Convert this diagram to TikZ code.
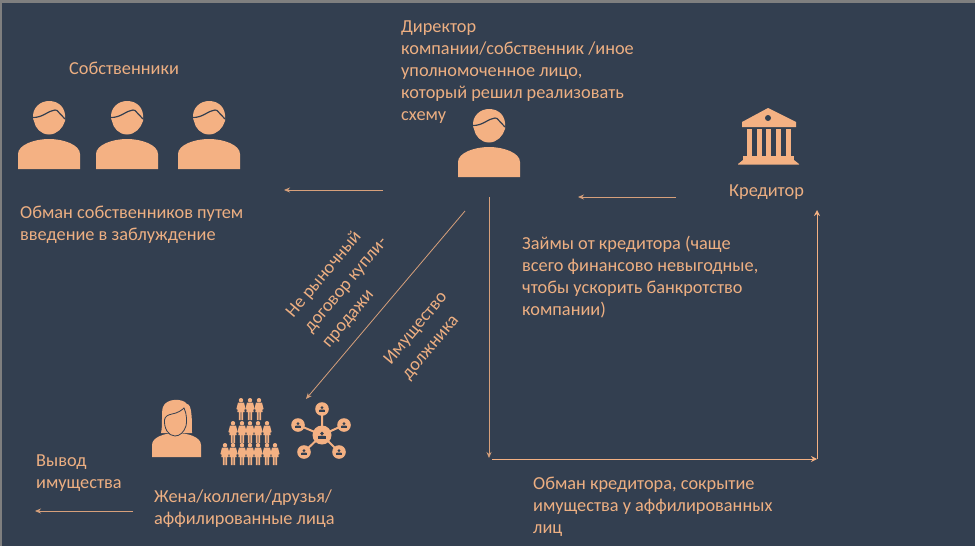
\documentclass[tikz,border=0pt]{standalone}
\usepackage{fontspec}
\usetikzlibrary{arrows.meta}
\setmainfont{Carlito}
\definecolor{bgc}{HTML}{333F50}
\definecolor{pch}{HTML}{F4B183}
\definecolor{txtc}{HTML}{EDAF82}
\definecolor{edgec}{HTML}{7F7F7F}
\tikzset{
  lbl/.style={text=txtc,font=\fontsize{18.3}{22}\selectfont,inner sep=0pt,align=left,anchor=north west},
  rotlbl/.style={text=txtc,font=\fontsize{18.3}{23.5}\selectfont,inner sep=0pt,align=left,rotate=50},
  flow/.style={draw=pch!85!bgc,line width=0.8pt,-{Stealth[length=6pt,width=5pt]}},
  flowb/.style={draw=pch,line width=1pt,-{Stealth[length=6pt,width=6pt]}},
  person/.pic={
    \fill[pch] (-16,0.5) .. controls (-17,-10) and (-9,-17) .. (0,-17) .. controls (10,-17) and (17,-10) .. (16,0.5) -- (16,3) .. controls (14,10) and (8,16.5) .. (0,16.5) .. controls (-8,16.5) and (-14,10) .. (-15,3) -- cycle;
    \fill[pch] (-31,51) -- (-31,36) .. controls (-31,27) and (-15,21) .. (0,21) .. controls (15,21) and (31,27) .. (31,36) -- (31,51) -- cycle;
    \draw[bgc,line width=1.2pt] (-17,-0.5) .. controls (-6,0) and (-1,-7.5) .. (6,-8) -- (8,-7.5) -- (16,1);
  },
  minip/.pic={
    \fill[pch] (0,-8.8) circle (2.2);
    \fill[pch] (-3,-6.4) -- (3,-6.4) -- (4.6,0) -- (3.4,0.6) -- (3.6,3) -- (2.2,3) -- (2.2,11) -- (0.4,11) -- (0.4,3) -- (-0.4,3) -- (-0.4,11) -- (-2.2,11) -- (-2.2,3) -- (-3.6,3) -- (-3.4,0.6) -- (-4.6,0) -- cycle;
  },
  netp/.pic={
    \fill[bgc] (0,-1.6) circle (1.9);
    \fill[bgc] (-3.8,3.6) rectangle (3.8,1.4);
    \fill[bgc] (-3.8,1.6) .. controls (-3.5,0.4) and (3.5,0.4) .. (3.8,1.6) -- cycle;
  },
}
\begin{document}
\begin{tikzpicture}[x=1pt,y=-1pt]
\useasboundingbox (0,0) rectangle (975,546);
\fill[bgc] (0,0) rectangle (975,546);
\fill[edgec] (0,0) rectangle (975,2.5);
\fill[edgec] (0,0) rectangle (1.5,546);

% owners
\pic at (49,118) {person};
\pic at (127,118) {person};
\pic at (209,118) {person};
% director
\pic at (489,126) {person};

% bank
\fill[pch] (768,108) -- (796,122) -- (796,127) -- (742,127) -- (742,122) -- cycle;
\fill[bgc] (768,118) circle (3);
\foreach \cx in {749,759,768.5,778,788} \fill[pch] (\cx-2.5,128.5) rectangle (\cx+2.5,156);
\fill[pch] (743,156) rectangle (794,160);
\fill[pch] (743,160) -- (794,160) -- (799,164) -- (799,164.5) -- (738,164.5) -- (738,164) -- cycle;

% woman
\fill[pch] (161,433) .. controls (163,425) and (161,412) .. (163,407) .. controls (166,398) and (183,398) .. (187,404) .. controls (192,404) and (192,420) .. (192,433) -- (178,433) -- (172,433) -- cycle;
\fill[pch] (152,457) -- (152,445) .. controls (152,437) and (165,433) .. (176,433) .. controls (188,433) and (201,437) .. (201,445) -- (201,457) -- cycle;
\draw[bgc,line width=0.8pt,fill=pch] (175,436) .. controls (168,436) and (164,428) .. (164.5,420) .. controls (165,416) and (168,415) .. (172,414) .. controls (178,413) and (182,410) .. (184,408) .. controls (187,414) and (187,422) .. (186,426) .. controls (184,432) and (180,436) .. (175,436) -- cycle;

% crowd
\foreach \cx in {241,250,259} \pic at (\cx,409) {minip};
\foreach \cx in {233,242,250,258,267} \pic at (\cx,432) {minip};
\foreach \cx in {225,233,242,250,258,267,275} \pic at (\cx,454) {minip};

% network
\draw[pch,line width=2pt] (322,435) -- (322,409) (322,435) -- (298,425) (322,435) -- (344,425) (322,435) -- (304,452) (322,435) -- (339,452);
\fill[pch] (322,435) circle (9.5);
\foreach \nx/\ny in {322/409,298/425,344/425,304/452,339/452} {
  \fill[pch] (\nx,\ny) circle (6.8);
  \pic[scale=0.8] at (\nx,\ny) {netp};
}
\pic at (322,435) {netp};

% texts
\node[lbl] (own) at (69,62) {Собственники};
\node[lbl] (dir) at (401,20.5) {Директор\\компании/собственник /иное\\уполномоченное лицо,\\который решил реализовать\\схему};
\node[lbl] (cred) at (729,185) {Кредитор};
\node[lbl] (dec) at (20,205.5) {Обман собственников путем\\введение в заблуждение};
\node[lbl] (loan) at (522,236) {Займы от кредитора (чаще\\всего финансово невыгодные,\\чтобы ускорить банкротство\\компании)};
\node[rotlbl] (deal) at (346,285) {Не рыночный\\договор купли-\\продажи};
\node[rotlbl] (prop) at (425,336) {Имущество\\должника};
\node[lbl] (wife) at (154,490) {Жена/коллеги/друзья/\\аффилированные лица};
\node[lbl] (out) at (36,455) {Вывод\\имущества};
\node[lbl] (dec2) at (533,477) {Обман кредитора, сокрытие\\имущества у аффилированных\\лиц};

% connectors
\coordinate (a1) at (383,190); \coordinate (a2) at (284,190);
\coordinate (b1) at (676,197); \coordinate (b2) at (578,197);
\coordinate (c1) at (489,197); \coordinate (c2) at (489,458);
\coordinate (d1) at (492,459); \coordinate (d2) at (817,459);
\coordinate (e1) at (817,459); \coordinate (e2) at (817,210);
\coordinate (f1) at (465,211); \coordinate (f2) at (306,399);
\coordinate (g1) at (133,511); \coordinate (g2) at (35,511);
\draw[flow] (a1) -- (a2);
\draw[flow] (b1) -- (b2);
\draw[flow] (c1) -- (c2);
\draw[flowb] (d1) -- (d2);
\draw[flowb] (e1) -- (e2);
\draw[flow] (f1) -- (f2);
\draw[flow] (g1) -- (g2);
\end{tikzpicture}
\end{document}
